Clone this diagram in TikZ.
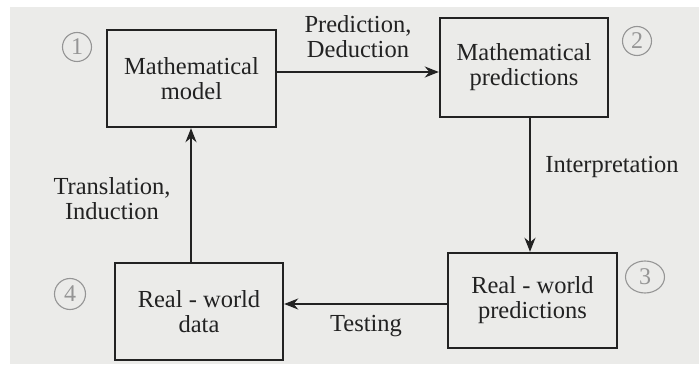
\documentclass[tikz,border=0pt]{standalone}
\usepackage{fontspec}
\setmainfont{Liberation Serif}
\usetikzlibrary{arrows.meta,shapes.geometric}
\definecolor{ink}{HTML}{222222}
\definecolor{paper}{HTML}{EBEBE9}
\definecolor{pencil}{HTML}{959595}
\tikzset{
  box/.style={draw=ink, line width=2.4pt, align=center, text=ink, inner sep=0pt,
    font=\fontsize{24.5}{25}\selectfont},
  conn/.style={draw=ink, line width=2pt, -{Stealth[length=14pt,width=11pt,inset=4.5pt]}},
  lbl/.style={text=ink, align=center, inner sep=0pt, font=\fontsize{24.5}{25}\selectfont},
  pmark/.style={draw=pencil, line width=1.1pt, text=pencil, inner sep=0pt,
    font=\fontsize{24}{24}\selectfont}
}
\begin{document}
\begin{tikzpicture}[x=1pt,y=-1pt]
\useasboundingbox (0,0) rectangle (699,366);
\fill[white] (0,0) rectangle (699,366);
\fill[paper] (10,7) rectangle (699,364);
% boxes
\node[box, minimum width=169pt, minimum height=97pt] (m1) at (191.5,78.5) {Mathematical\\model};
\node[box, minimum width=168pt, minimum height=99pt] (m2) at (524,67.5) {Mathematical\\predictions};
\node[box, minimum width=169pt, minimum height=95pt] (m3) at (532.5,300.5) {Real - world\\predictions};
\node[box, minimum width=168pt, minimum height=97pt] (m4) at (199,311.5) {Real - world\\data};
% connectors
\coordinate (h1) at (0,72);
\coordinate (v2) at (530,0);
\coordinate (h3) at (0,304);
\coordinate (v4) at (191,0);
\draw[conn] (m1.east |- h1) -- (m2.west |- h1);
\draw[conn] (m2.south -| v2) -- (m3.north -| v2);
\draw[conn] (m3.west |- h3) -- (m4.east |- h3);
\draw[conn] (m4.north -| v4) -- (m1.south -| v4);
% labels
\node[lbl] (l1) at (358,37) {Prediction,\\Deduction};
\node[lbl] (l2) at (612,167) {Interpretation};
\node[lbl] (l3) at (366,326) {Testing};
\node[lbl] (l4) at (112,199) {Translation,\\Induction};
% pencil marks
\node[pmark, circle, minimum size=29pt] (c1) at (77,47) {1};
\node[pmark, circle, minimum size=29pt] (c2) at (637,41) {2};
\node[pmark, ellipse, minimum width=39pt, minimum height=32pt] (c3) at (645,277) {3};
\node[pmark, circle, minimum size=31pt] (c4) at (70,294) {4};
\end{tikzpicture}
\end{document}
